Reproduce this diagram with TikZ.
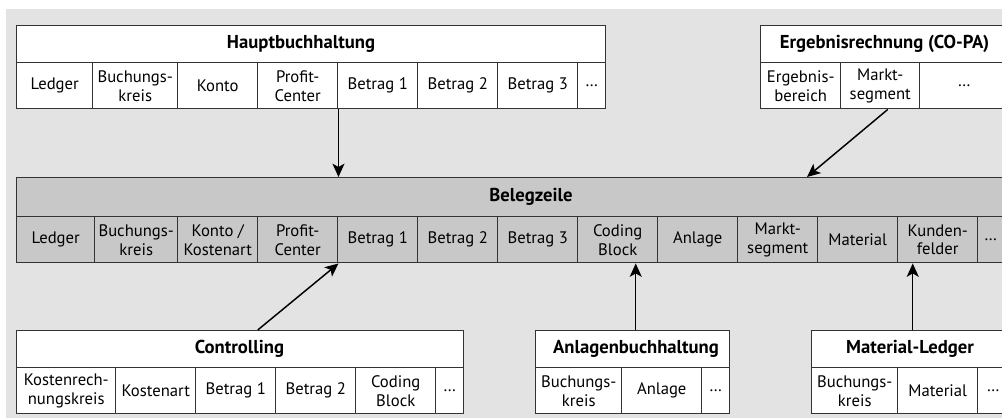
\documentclass[tikz,border=0pt]{standalone}
\usepackage{fontspec}
\setmainfont{PT Sans}
\usetikzlibrary{arrows.meta}
\definecolor{bg}{HTML}{E3E3E3}
\definecolor{beleg}{HTML}{C8C8C8}
\definecolor{linec}{HTML}{333333}
\begin{document}
\begin{tikzpicture}[x=0.75pt,y=-0.75pt,
  cell/.style={draw=linec, line width=1.1pt, fill=white, anchor=north west, inner sep=0pt,
    align=center, minimum width=#1*0.75pt, minimum height=46*0.75pt,
    font=\fontsize{12.5}{14.2}\selectfont},
  cell/.default=80,
  head/.style={cell=#1, minimum height=37*0.75pt},
  grey/.style={fill=beleg},
  title/.style={inner sep=0pt, font=\fontsize{14}{15}\selectfont\bfseries},
  arr/.style={-{Stealth[length=10pt,width=9pt,inset=2.5pt]}, line width=1.1pt, black}]
\useasboundingbox (0,0) rectangle (1002,418);
\clip (0,0) rectangle (1002,418);
\fill[bg] (6,9) rectangle (1002,418);

% Hauptbuchhaltung
\node[head=589] (H) at (16,25) {};
\node[title] (Ht) at (301,43.5) {Hauptbuchhaltung};
\node[cell=76] (H1) at (16,62) {Ledger};
\node[cell=85] (H2) at (92,62) {Buchungs-\\kreis};
\node[cell] (H3) at (177,62) {Konto};
\node[cell] (H4) at (257,62) {Profit-\\Center};
\node[cell] (H5) at (337,62) {Betrag 1};
\node[cell] (H6) at (417,62) {Betrag 2};
\node[cell] (H7) at (497,62) {Betrag 3};
\node[cell=28] (H8) at (577,62) {…};

% Ergebnisrechnung
\node[head=248] (E) at (760,25) {};
\node[title] (Et) at (884.5,43.5) {Ergebnisrechnung (CO-PA)};
\node[cell] (E1) at (760,62) {Ergebnis-\\bereich};
\node[cell=79] (E2) at (840,62) {Markt-\\segment};
\node[cell=89] (E3) at (919,62) {…};

% Belegzeile
\node[head=990, grey, minimum height=39*0.75pt] (B) at (16,177) {};
\node[title] (Bt) at (531,196.5) {Belegzeile};
\node[cell=78, grey] (B1) at (16,216) {Ledger};
\node[cell=83, grey] (B2) at (94,216) {Buchungs-\\kreis};
\node[cell, grey] (B3) at (177,216) {Konto /\\Kostenart};
\node[cell, grey] (B4) at (257,216) {Profit-\\Center};
\node[cell, grey] (B5) at (337,216) {Betrag 1};
\node[cell, grey] (B6) at (417,216) {Betrag 2};
\node[cell, grey] (B7) at (497,216) {Betrag 3};
\node[cell, grey] (B8) at (577,216) {Coding\\Block};
\node[cell, grey] (B9) at (657,216) {Anlage};
\node[cell, grey] (B10) at (737,216) {Markt-\\segment};
\node[cell, grey] (B11) at (817,216) {Material};
\node[cell, grey] (B12) at (897,216) {Kunden-\\felder};
\node[cell=26, grey] (B13) at (977,216) {…};

% Controlling
\node[head=447] (C) at (16,330) {};
\node[title] (Ct) at (239.5,348.5) {Controlling};
\node[cell=99] (C1) at (16,367) {Kostenrech-\\nungskreis};
\node[cell] (C2) at (115,367) {Kostenart};
\node[cell] (C3) at (195,367) {Betrag 1};
\node[cell] (C4) at (275,367) {Betrag 2};
\node[cell] (C5) at (355,367) {Coding\\Block};
\node[cell=28] (C6) at (435,367) {…};

% Anlagenbuchhaltung
\node[head=194] (A) at (535,330) {};
\node[title] (At) at (636,348.5) {Anlagenbuchhaltung};
\node[cell=86] (A1) at (535,367) {Buchungs-\\kreis};
\node[cell] (A2) at (621,367) {Anlage};
\node[cell=28] (A3) at (701,367) {…};

% Material-Ledger
\node[head=197] (M) at (811,330) {};
\node[title] (Mt) at (910,348.5) {Material-Ledger};
\node[cell=86] (M1) at (811,367) {Buchungs-\\kreis};
\node[cell] (M2) at (897,367) {Material};
\node[cell=31] (M3) at (977,367) {…};

% connectors
\draw[arr] (H4.south east) -- (H4.south east |- B.north);
\draw[arr] ([xshift=7.5*0.75pt]E2.south) -- ([xshift=70*0.75pt]B10.north west |- B.north);
\draw[arr] ([xshift=17.5*0.75pt]C.north) -- (B4.south east);
\draw[arr] ([xshift=3*0.75pt]A.north) -- ([xshift=3*0.75pt]A.north |- B8.south);
\draw[arr] ([xshift=2.5*0.75pt]M.north) -- ([xshift=2.5*0.75pt]M.north |- B12.south);
\end{tikzpicture}
\end{document}
